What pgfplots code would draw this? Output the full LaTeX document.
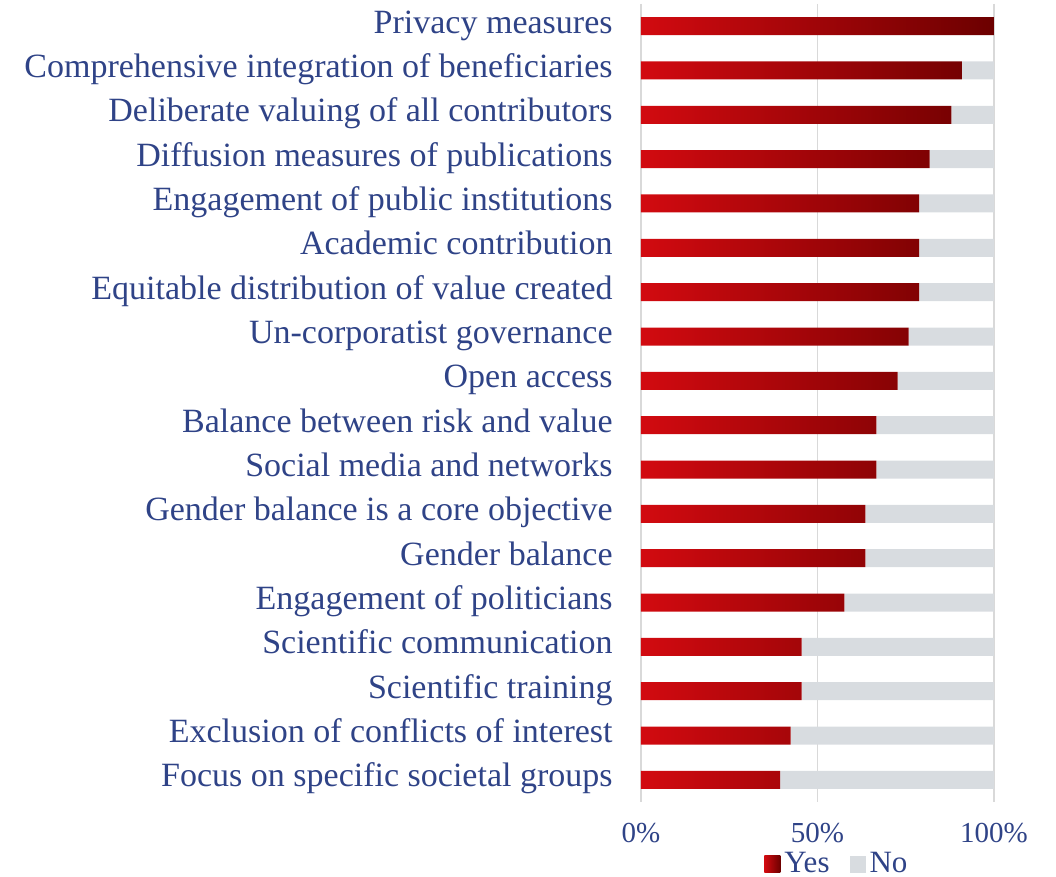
\documentclass[border=0pt]{standalone}
\usepackage{fontspec}
\setmainfont{Liberation Serif}
\usepackage{pgfplots}
\usepackage{pgfplotstable}
\pgfplotsset{compat=1.18}

\definecolor{txtblue}{HTML}{2F4387}
\definecolor{redL}{HTML}{D20A10}
\definecolor{redR}{HTML}{6C0000}
\definecolor{nogray}{HTML}{D8DCE0}
\definecolor{gridgray}{HTML}{D9D9D9}

% share of Yes / No answers, top row first
\pgfplotstableread{
idx yes  no
0   100.0 0.0
1   90.9  9.1
2   87.9  12.1
3   81.8  18.2
4   78.8  21.2
5   78.8  21.2
6   78.8  21.2
7   75.8  24.2
8   72.7  27.3
9   66.7  33.3
10  66.7  33.3
11  63.6  36.4
12  63.6  36.4
13  57.6  42.4
14  45.5  54.5
15  45.5  54.5
16  42.4  57.6
17  39.4  60.6
}\answers

\begin{document}
\begin{tikzpicture}
\begin{axis}[
    at={(0,0)}, anchor=south west,
    scale only axis,
    width=176.5pt, height=399pt,
    xbar stacked,
    bar width=9pt,
    xmin=0, xmax=100,
    ymin=-0.5, ymax=17.5,
    y dir=reverse,
    axis line style={draw=none},
    major tick length=0pt,
    xtick={0,50,100},
    xticklabels={0\%,50\%,100\%},
    xmajorgrids,
    grid style={draw=gridgray, line width=0.7pt},
    ytick={0,...,17},
    yticklabels={Privacy measures,
        Comprehensive integration of beneficiaries,
        Deliberate valuing of all contributors,
        Diffusion measures of publications,
        Engagement of public institutions,
        Academic contribution,
        Equitable distribution of value created,
        Un-corporatist governance,
        Open access,
        Balance between risk and value,
        Social media and networks,
        Gender balance is a core objective,
        Gender balance,
        Engagement of politicians,
        Scientific communication,
        Scientific training,
        Exclusion of conflicts of interest,
        Focus on specific societal groups},
    yticklabel style={anchor=base east, inner sep=0pt, xshift=-14pt, yshift=-3.5pt,
        font=\fontsize{17}{19}\selectfont, text=txtblue},
    xticklabel style={anchor=north, inner sep=0pt, yshift=-10.5pt,
        font=\fontsize{14.5}{16}\selectfont, text=txtblue},
    legend columns=2,
    legend style={at={(0.558,-0.0775)}, anchor=center, draw=none, fill=none,
        inner sep=0pt, font=\fontsize{15.5}{17}\selectfont, text=txtblue,
        /tikz/every even column/.append style={column sep=8pt}},
    legend image code/.code={\path[#1, draw=none] (0pt,-4.5pt) rectangle (8pt,4pt);},
]
\addplot[draw=none, left color=redL, right color=redR] table[x=yes, y=idx] {\answers};
\addplot[draw=none, fill=nogray] table[x=no, y=idx] {\answers};
\legend{Yes, No}
\end{axis}
\pgfresetboundingbox
\path (-320.5pt,-37.5pt) rectangle (207.5pt,401pt);
\end{tikzpicture}
\end{document}
